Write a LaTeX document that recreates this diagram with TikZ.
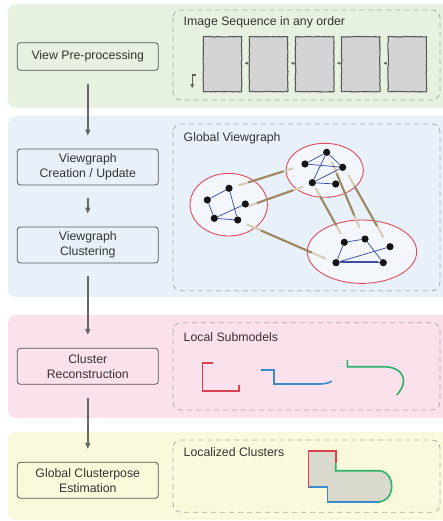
\documentclass[tikz,border=0pt]{standalone}
\usepackage{fontspec}
\setmainfont{Liberation Sans}
\usetikzlibrary{arrows.meta,decorations.pathmorphing,calc,shapes.geometric}
\definecolor{pgreen}{HTML}{E7F1E0}
\definecolor{pblue}{HTML}{E8F1F9}
\definecolor{ppink}{HTML}{FAE1EB}
\definecolor{pyellow}{HTML}{FAF9DC}
\definecolor{boxline}{HTML}{555555}
\definecolor{txt}{HTML}{333333}
\definecolor{arrowgray}{HTML}{666666}
\definecolor{dashgray}{HTML}{AAAAAA}
\definecolor{framefill}{HTML}{D4D4D4}
\definecolor{frameline}{HTML}{5A5A5A}
\definecolor{ellred}{HTML}{E04A5A}
\definecolor{ellfill}{HTML}{F3F7FC}
\definecolor{tanlight}{HTML}{D6CBB4}
\definecolor{tandark}{HTML}{9C8762}
\definecolor{vblue}{HTML}{3D4F9F}
\definecolor{smred}{HTML}{D9434F}
\definecolor{smblue}{HTML}{3B8ACB}
\definecolor{smgreen}{HTML}{2DB26A}
\definecolor{mergefill}{HTML}{D9D9CD}
\tikzset{
  stepbox/.style={draw=boxline, line width=0.8pt, rounded corners=3pt, align=center,
    inner sep=0pt, minimum width=141pt, text=txt},
  flowarrow/.style={draw=arrowgray, line width=1.4pt, -{Triangle[length=6pt,width=5pt]},
    shorten >=13pt, shorten <=13pt},
  dashpanel/.style={draw=dashgray, line width=0.8pt, dash pattern=on 5pt off 4pt, rounded corners=8pt},
  paneltitle/.style={anchor=west, text=txt, inner sep=0pt},
  framebox/.style={draw=frameline, fill=framefill, line width=1.1pt, minimum width=38.4pt,
    minimum height=55pt, inner sep=0pt, decorate,
    decoration={random steps, segment length=2pt, amplitude=0.35pt}},
  tinyarrow/.style={draw=frameline, line width=0.4pt, -{Triangle[length=2.5pt,width=3pt]}},
  cluster/.style={ellipse, draw=ellred, fill=ellfill, line width=0.9pt, inner sep=0pt},
  dot/.style={circle, fill=black!92, inner sep=0pt, minimum size=7.2pt},
  vedge/.style={draw=vblue, line width=0.75pt},
  gedgelight/.style={draw=tanlight, line width=2pt},
  gedgedark/.style={draw=tandark, line width=2pt},
  subm/.style={line width=1.6pt}
}
\newcommand\gline[2]{%
  \draw[gedgelight] (#1) -- (#2);
  \draw[gedgedark] ($(#1)!0.18!(#2)$) -- ($(#1)!0.82!(#2)$);
}
\begin{document}
\begin{tikzpicture}[x=1pt,y=-1pt, font=\fontsize{12.3}{14.7}\selectfont]
\useasboundingbox (0,0) rectangle (442,521);
% background panels
\fill[pgreen, rounded corners=8pt] (8,4) rectangle (452,108);
\fill[pblue, rounded corners=8pt] (8,116) rectangle (452,297);
\fill[ppink, rounded corners=8pt] (8,315) rectangle (452,418);
\fill[pyellow, rounded corners=8pt] (8,432) rectangle (452,520);
% dashed panels
\draw[dashpanel] (173,10) rectangle (440,100);
\draw[dashpanel] (173,124) rectangle (440,290.7);
\draw[dashpanel] (173,322.7) rectangle (440,410);
\draw[dashpanel] (173,440) rectangle (440,512.3);
% titles
\node[paneltitle] (t1) at (183.5,22) {Image Sequence in any order};
\node[paneltitle] (t2) at (183.5,138) {Global Viewgraph};
\node[paneltitle] (t3) at (183.5,336.7) {Local Submodels};
\node[paneltitle] (t4) at (183.5,452) {Localized Clusters};
% left step boxes
\node[stepbox, minimum height=27.6pt] (b1) at (87.8,56.5) {View Pre-processing};
\node[stepbox, minimum height=36pt] (b2) at (87.8,167) {Viewgraph\\Creation / Update};
\node[stepbox, minimum height=36pt] (b3) at (87.8,245) {Viewgraph\\Clustering};
\node[stepbox, minimum height=36pt] (b4) at (87.8,366.3) {Cluster\\Reconstruction};
\node[stepbox, minimum height=36pt] (b5) at (87.8,480.3) {Global Clusterpose\\Estimation};
\draw[flowarrow] (b1) -- (b2);
\draw[flowarrow] (b2) -- (b3);
\draw[flowarrow] (b3) -- (b4);
\draw[flowarrow] (b4) -- (b5);
% image sequence
\node[framebox] (f1) at (222.5,64.2) {};
\node[framebox] (f2) at (268.5,64.2) {};
\node[framebox] (f3) at (314.7,64.2) {};
\node[framebox] (f4) at (360.7,64.2) {};
\node[framebox] (f5) at (407.3,64.2) {};
\draw[tinyarrow] ($(f2.west)+(-0.8,-1)$) -- ($(f2.west)+(-3.8,-1)$);
\draw[tinyarrow] ($(f3.west)+(-0.8,-1)$) -- ($(f3.west)+(-3.8,-1)$);
\draw[tinyarrow] ($(f4.west)+(-0.8,-1)$) -- ($(f4.west)+(-3.8,-1)$);
\draw[tinyarrow] ($(f5.west)+(-0.8,-1)$) -- ($(f5.west)+(-3.8,-1)$);
\coordinate (h1) at (195.6,75);
\coordinate (h2) at (192.2,75);
\coordinate (h3) at (192.2,88);
\draw[draw=frameline, line width=1.2pt, -{Triangle[length=3.5pt,width=3.5pt]}] (h1) -- (h2) -- (h3);
% global viewgraph
\node[cluster, minimum width=77.4pt, minimum height=62.6pt] (c1) at (228.7,204.7) {};
\node[cluster, minimum width=77.4pt, minimum height=54pt] (c2) at (324.7,170.3) {};
\node[cluster, minimum width=109.4pt, minimum height=63.4pt] (c3) at (362,251.7) {};
\coordinate (g1a) at (238.3,185.5);
\coordinate (g1b) at (293.3,168.3);
\coordinate (g2a) at (246.7,206.7);
\coordinate (g2b) at (303.3,186.7);
\coordinate (g3a) at (246.7,224.3);
\coordinate (g3b) at (326,258.8);
\coordinate (g4a) at (315.5,188);
\coordinate (g4b) at (341,234);
\coordinate (g5a) at (331.7,161.7);
\coordinate (g5b) at (359.3,227.5);
\coordinate (g6a) at (348.3,175);
\coordinate (g6b) at (383.5,237.5);
\gline{g1a}{g1b}
\gline{g2a}{g2b}
\gline{g3a}{g3b}
\gline{g4a}{g4b}
\gline{g5a}{g5b}
\gline{g6a}{g6b}
% left cluster nodes
\node[dot] (l1) at (229,188.3) {};
\node[dot] (l2) at (207.3,200) {};
\node[dot] (l3) at (245.3,204) {};
\node[dot] (l4) at (214.3,218.3) {};
\node[dot] (l5) at (237.7,220) {};
\draw[vedge] (l1) -- (l2);
\draw[vedge] (l2) -- (l4);
\draw[vedge] (l1) -- (l5);
\draw[vedge] (l4) -- (l5);
\draw[vedge] (l4) -- (l3);
% top cluster nodes
\node[dot] (a1) at (326.7,152.3) {};
\node[dot] (a2) at (305,164) {};
\node[dot] (a3) at (342.7,167.3) {};
\node[dot] (a4) at (312.3,182.7) {};
\node[dot] (a5) at (335.7,184) {};
\draw[vedge] (a2) -- (a1);
\draw[vedge] (a2) -- (a3);
\draw[vedge] (a1) -- (a4);
\draw[vedge] (a1) -- (a3);
\draw[vedge] (a4) -- (a3);
\draw[vedge] (a4) -- (a5);
% bottom cluster nodes
\node[dot] (p1) at (344.3,242.3) {};
\node[dot] (p2) at (365,239) {};
\node[dot] (p3) at (390,246.7) {};
\node[dot] (p4) at (336,262.7) {};
\node[dot] (p5) at (383.3,262.7) {};
\draw[vedge] (p1) -- (p2);
\draw[vedge] (p1) -- (p4);
\draw[vedge] (p2) -- (p5);
\draw[vedge] (p4) -- (p5);
\draw[vedge] (p4) -- (p3);
\draw[vedge] ($(p4)+(5,-1.8)$) -- ($(p5)+(-5,-1.8)$);
% local submodels
\draw[subm, draw=smred] (213.3,362.7) -- (202.3,362.7) -- (202.3,390.7) -- (239,390.7) -- (239,385);
\draw[subm, draw=smblue] (260.7,370) -- (274,370) -- (274,384) -- (318,384) .. controls (326,384) and (329,383) .. (331.7,381);
\draw[subm, draw=smgreen] (347.3,360) -- (347.3,366.7) -- (383.3,366.7) .. controls (398,366.7) and (403.5,374) .. (403.5,381) .. controls (403.5,387) and (400,391) .. (396.7,395);
% localized clusters
\fill[mergefill] (308.3,451) -- (335.7,451) -- (335.7,470.7) -- (378.3,470.7) .. controls (386.5,470.7) and (391.7,478) .. (391.7,486.2) .. controls (391.7,494.5) and (386.5,501.7) .. (378.3,501.7) -- (327.3,501.7) -- (327.3,486.7) -- (308.3,486.7) -- cycle;
\draw[subm, draw=smblue] (380,501.7) -- (327.3,501.7) -- (327.3,486.7) -- (308.3,486.7);
\draw[subm, draw=smgreen] (335.7,463.3) -- (335.7,470.7) -- (378.3,470.7) .. controls (386.5,470.7) and (391.7,478) .. (391.7,486.2) .. controls (391.7,494.5) and (386.5,501.7) .. (378.3,501.7) -- (381,501.7);
\draw[subm, draw=smred] (308.3,487.5) -- (308.3,451) -- (335.7,451) -- (335.7,463.3);
\end{tikzpicture}
\end{document}
